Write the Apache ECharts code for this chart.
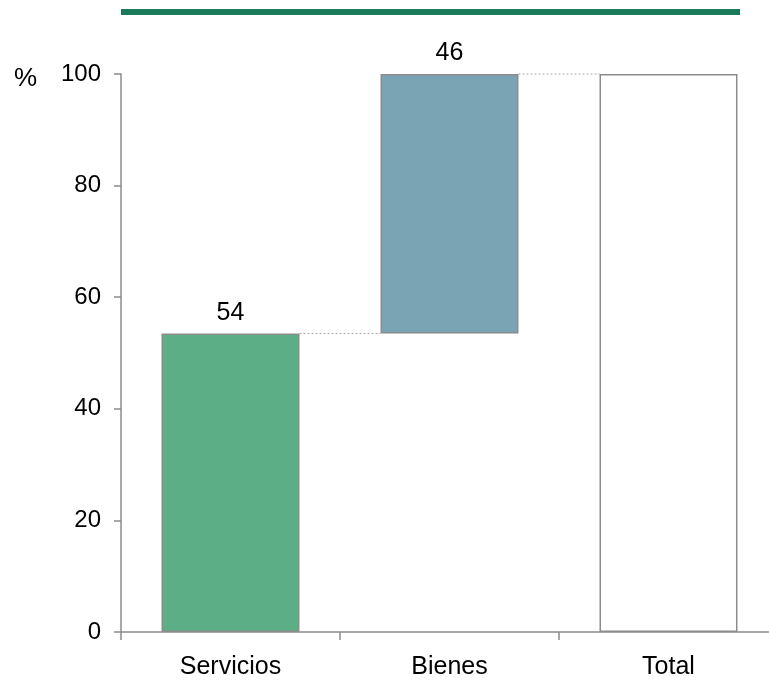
<!DOCTYPE html>
<html><head><meta charset="utf-8">
<script src="https://cdn.jsdelivr.net/npm/echarts@6/dist/echarts.min.js"></script>
<style>html,body{margin:0;padding:0;background:#fff}#c{width:769px;height:683px}</style>
</head><body><div id="c"></div>
<script>
const categories = ['Servicios', 'Bienes', 'Total'];
const barValues = [53.5, 46.5, 100];
const baseValues = [0, 53.5, 0];
const barLabels = ['54', '46', ''];
const yTicks = [0, 20, 40, 60, 80, 100];
const connectorLevels = [53.5, 100]; // from bar i to bar i+1

const FONT = '"Liberation Sans", Arial, sans-serif';
const GREY = '#8c8c8c';
const BAR_PCT = 0.63;
const colors = ['#5BAE85', '#7AA3B4', '#ffffff'];

const chart = echarts.init(document.getElementById('c'), null, {renderer: 'canvas'});
chart.setOption({
  animation: false,
  backgroundColor: '#fff',
  grid: {left: 121, top: 74, width: 657, bottom: 51, containLabel: false, outerBoundsMode: 'none'},
  graphic: [
    {type: 'rect', shape: {x: 121, y: 9, width: 619, height: 6}, style: {fill: '#1A7A5A'}},
    {type: 'text', left: 14, top: 66, style: {text: '%', fontSize: 26, fontFamily: FONT, fill: '#000'}}
  ],
  xAxis: {
    type: 'category', data: categories,
    axisLine: {lineStyle: {color: GREY, width: 1.5}},
    axisTick: {show: true, length: 8, lineStyle: {color: GREY, width: 1.5}},
    axisLabel: {color: '#000', fontSize: 25, fontFamily: FONT, margin: 23}
  },
  yAxis: {
    type: 'value', min: 0, max: 100, interval: 20,
    splitLine: {show: false},
    axisLine: {show: true, lineStyle: {color: GREY, width: 1.5}},
    axisTick: {show: true, length: 7, lineStyle: {color: GREY, width: 1.5}},
    axisLabel: {color: '#000', fontSize: 24, fontFamily: FONT, margin: 20,
      formatter: v => yTicks.includes(v) ? String(v) : ''}
  },
  series: [
    {type: 'bar', stack: 'w', data: baseValues, barWidth: (BAR_PCT * 100) + '%',
      itemStyle: {color: 'transparent'}, silent: true},
    {type: 'bar', stack: 'w', barWidth: (BAR_PCT * 100) + '%',
      data: barValues.map((v, i) => ({value: v, itemStyle: {color: colors[i]}})),
      itemStyle: {borderColor: GREY, borderWidth: 1.5},
      label: {show: true, position: 'top', distance: 8, color: '#000', fontSize: 25, fontFamily: FONT,
        formatter: p => barLabels[p.dataIndex]}
    },
    {type: 'custom', silent: true, z: 1,
      data: connectorLevels.map((v, i) => [i, v]),
      renderItem: (params, api) => {
        const i = api.value(0), v = api.value(1);
        const p1 = api.coord([i, v]);
        const p2 = api.coord([i + 1, v]);
        const half = api.size([1, 0])[0] * BAR_PCT / 2;
        return {type: 'line',
          shape: {x1: p1[0] + half, y1: p1[1], x2: p2[0] - half, y2: p2[1]},
          style: {stroke: '#aaaaaa', lineWidth: 1, lineDash: [2, 2]}};
      }
    }
  ]
});
</script></body></html>
